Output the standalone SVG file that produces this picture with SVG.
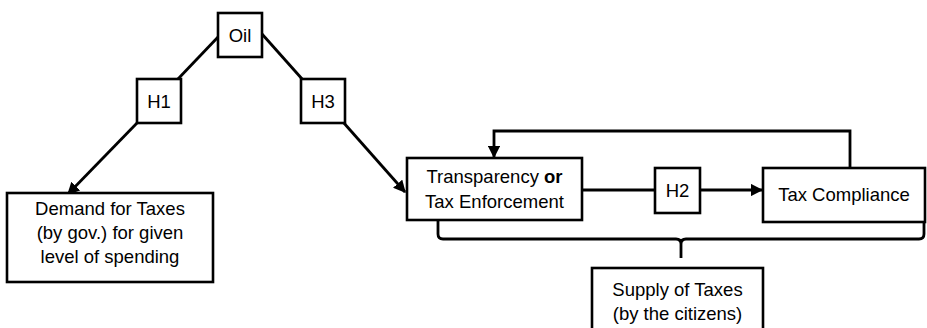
<svg xmlns="http://www.w3.org/2000/svg" width="927" height="328" viewBox="0 0 927 328">
<style>
.box{fill:#fff;stroke:#000;stroke-width:2.6}
.t{font-family:"Liberation Sans",Arial,sans-serif;font-size:18.5px;fill:#000;text-anchor:middle}
.c{fill:none;stroke:#000;stroke-width:2.8}
</style>
<defs>
<marker id="ah" viewBox="0 0 10 10" refX="9" refY="5" markerWidth="4.4" markerHeight="4.4" orient="auto" markerUnits="strokeWidth">
<path d="M0,0 L10,5 L0,10 z" fill="#000"/>
</marker>
</defs>
<rect width="927" height="328" fill="#fff"/>
<g id="connectors">
<line class="c" x1="219" y1="36" x2="177" y2="80"/>
<line class="c" x1="138" y1="122" x2="68" y2="194" marker-end="url(#ah)"/>
<line class="c" x1="262" y1="34" x2="303" y2="80"/>
<line class="c" x1="343" y1="122" x2="405" y2="192" marker-end="url(#ah)"/>
<line class="c" x1="582" y1="190" x2="655" y2="190"/>
<line class="c" x1="700" y1="190" x2="762" y2="190" marker-end="url(#ah)"/>
<polyline class="c" points="850,168 850,131 494,131 494,157" marker-end="url(#ah)"/>
<path class="c" d="M438,221 V234 Q438,239 443,239 H676 Q681,239 681,244 V258 M681,244 Q681,239 686,239 H919 Q924,239 924,234 V221"/>
</g>
<g id="oil">
<rect class="box" x="218" y="13" width="44" height="44"/>
<text class="t" x="240" y="42">Oil</text>
</g>
<g id="h1">
<rect class="box" x="137" y="79" width="44" height="44"/>
<text class="t" x="159" y="108">H1</text>
</g>
<g id="h3">
<rect class="box" x="301" y="79" width="44" height="44"/>
<text class="t" x="323" y="108">H3</text>
</g>
<g id="demand">
<rect class="box" x="7" y="193" width="206" height="89"/>
<text class="t" x="110" y="215">Demand for Taxes</text>
<text class="t" x="110" y="239">(by gov.) for given</text>
<text class="t" x="110" y="263">level of spending</text>
</g>
<g id="transparency">
<rect class="box" x="407" y="158" width="175" height="62"/>
<text class="t" x="494.5" y="183">Transparency <tspan font-weight="bold">or</tspan></text>
<text class="t" x="494.5" y="208">Tax Enforcement</text>
</g>
<g id="h2">
<rect class="box" x="655" y="168" width="45" height="45"/>
<text class="t" x="677.5" y="197">H2</text>
</g>
<g id="compliance">
<rect class="box" x="763" y="168" width="162" height="54"/>
<text class="t" x="844" y="201">Tax Compliance</text>
</g>
<g id="supply">
<rect class="box" x="592" y="268" width="171" height="64"/>
<text class="t" x="677.5" y="296">Supply of Taxes</text>
<text class="t" x="677.5" y="320">(by the citizens)</text>
</g>
</svg>
